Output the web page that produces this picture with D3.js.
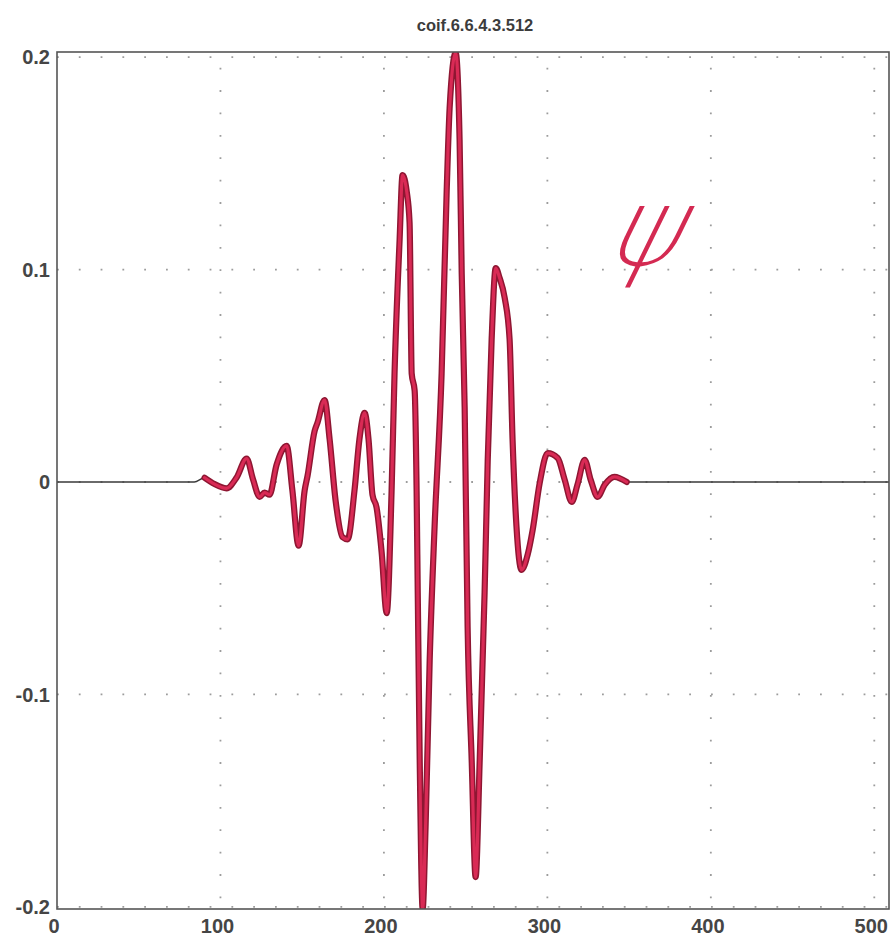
<!DOCTYPE html>
<html>
<head>
<meta charset="utf-8">
<script src="https://cdn.jsdelivr.net/npm/d3@7/dist/d3.min.js"></script>
<style>
  html, body { margin: 0; padding: 0; background: #fff; }
  svg { display: block; }
  .tick-label { font-family: "Liberation Sans", Arial, sans-serif; font-weight: bold; font-size: 20px; fill: #454545; }
  .title { font-family: "Liberation Sans", Arial, sans-serif; font-weight: bold; font-size: 16.5px; fill: #3c3c3c; }
</style>
</head>
<body>
<svg id="chart" width="892" height="938"></svg>
<script>
// Coiflet wavelet function psi, sample index vs amplitude
const title = "coif.6.6.4.3.512";
const xTicks = [0, 100, 200, 300, 400, 500];
const yTicks = [0.2, 0.1, 0, -0.1, -0.2];
const yTickLabels = ["0.2", "0.1", "0", "-0.1", "-0.2"];
const xGrid = [100, 200, 300, 400, 500];
const yGrid = [0.2, 0.1, 0, -0.1, -0.2];

const sampleIndex = [
  0, 84, 90.3, 96.4, 103.7, 109.8, 116, 120, 124, 127, 130, 134.3, 140.5, 144,
  147.8, 151.5, 153.3, 157.6, 159.4, 163.7, 166.8, 170.4, 174.7, 177.8, 182, 185,
  188.2, 190.6, 193, 195.5, 198.6, 201.7, 204.7, 206.5, 209.6, 211.4, 213.9, 215.7,
  217, 218.8, 220, 220.7, 221.9, 223.7, 225.5, 228, 231, 235.3, 238.4, 240.2, 243.9,
  246.3, 247.6, 249.4, 251.2, 253.7, 256.1, 258.6, 261.6, 263.5, 265.9, 268.4, 270.8,
  273.9, 276.9, 278.7, 281.1, 284.2, 288, 291, 295.3, 300.2, 306.3, 310.6, 314.9,
  318.5, 322.8, 326.5, 330.8, 335, 341, 348.5, 509
];
const psi = [
  0, 0, 0.002, -0.001, -0.003, 0.002, 0.011, 0.001, -0.007, -0.005, -0.006, 0.008, 0.017, -0.004,
  -0.030, -0.004, 0.003, 0.024, 0.028, 0.0386, 0.020, -0.0085, -0.026, -0.027, -0.004, 0.020,
  0.0325, 0.020, -0.006, -0.012, -0.033, -0.0617, -0.004, 0.051, 0.114, 0.1445, 0.137, 0.122,
  0.051, 0.043, -0.004, -0.052, -0.131, -0.201, -0.162, -0.084, -0.021, 0.051, 0.137, 0.176, 0.202,
  0.161, 0.098, 0.035, -0.068, -0.131, -0.186, -0.131, -0.052, 0.010, 0.067, 0.1007, 0.096,
  0.0866, 0.067, 0.020, -0.021, -0.0414, -0.034, -0.0226, -0.0005, 0.0136, 0.0113, 0.001, -0.0094,
  -0.001, 0.0104, 0.001, -0.007, -0.0014, 0.0024, 0, 0
];

const svg = d3.select("#chart");

const x = d3.scaleLinear().domain([0, 509]).range([57, 889]);
const y = d3.scaleLinear().domain([-0.201, 0.2024]).range([909, 52]);

const [x0, x1] = x.range();
const [yb, yt] = y.range();

// dotted grid
const grid = svg.append("g").attr("stroke", "#9c9c9c").attr("stroke-width", 1.8)
  .attr("stroke-linecap", "butt").attr("fill", "none");
grid.selectAll("line.h").data(yGrid).join("line").attr("class", "h")
  .attr("x1", x0).attr("x2", x1)
  .attr("y1", d => y(d)).attr("y2", d => y(d))
  .attr("stroke-dasharray", "1.8,20");
grid.selectAll("line.v").data(xGrid).join("line").attr("class", "v")
  .attr("x1", d => x(d)).attr("x2", d => x(d))
  .attr("y1", yt).attr("y2", yb)
  .attr("stroke-dasharray", "1.8,20.6")
  .attr("stroke-dashoffset", 6.7);

const pts = sampleIndex.map((s, i) => [s, psi[i]]);
const line = d3.line().x(d => x(d[0])).y(d => y(d[1])).curve(d3.curveMonotoneX);

const clip = svg.append("clipPath").attr("id", "plotclip")
  .append("rect").attr("x", x0).attr("y", yt).attr("width", x1 - x0).attr("height", yb - yt);

const plot = svg.append("g").attr("clip-path", "url(#plotclip)");

// thin trace over the whole range
plot.append("path").attr("d", line(pts)).attr("fill", "none")
  .attr("stroke", "#3a3a3a").attr("stroke-width", 1.4);

// highlighted support of the wavelet
const support = pts.filter(d => d[0] >= 86 && d[0] <= 349);
plot.append("path").attr("d", line(support)).attr("fill", "none")
  .attr("stroke", "#8e1632").attr("stroke-width", 6.2)
  .attr("stroke-linejoin", "round").attr("stroke-linecap", "round");
plot.append("path").attr("d", line(support)).attr("fill", "none")
  .attr("stroke", "#d92a55").attr("stroke-width", 3.2)
  .attr("stroke-linejoin", "round").attr("stroke-linecap", "round");

// frame
svg.append("rect").attr("x", x0).attr("y", yt).attr("width", x1 - x0).attr("height", yb - yt)
  .attr("fill", "none").attr("stroke", "#555").attr("stroke-width", 1.6);

// tick labels
svg.selectAll("text.ylab").data(yTicks).join("text").attr("class", "tick-label ylab")
  .attr("x", 50).attr("y", d => y(d)).attr("dy", "0.36em")
  .attr("text-anchor", "end").text((d, i) => yTickLabels[i]);
svg.selectAll("text.xlab").data(xTicks).join("text").attr("class", "tick-label xlab")
  .attr("x", d => x(d) - 3).attr("y", 933)
  .attr("text-anchor", "middle").text(d => d);

svg.append("text").attr("class", "title")
  .attr("x", (x0 + x1) / 2 + 2).attr("y", 31).attr("text-anchor", "middle").text(title);

// handwritten psi annotation
svg.append("text").attr("x", 650).attr("y", 265)
  .attr("text-anchor", "middle")
  .attr("font-family", "DejaVu Sans")
  .attr("font-weight", 200)
  .attr("font-size", 108)
  .attr("fill", "#d42a52")
  .attr("transform", "skewX(-26) translate(118,0)")
  .text("ψ");
</script>
</body>
</html>
